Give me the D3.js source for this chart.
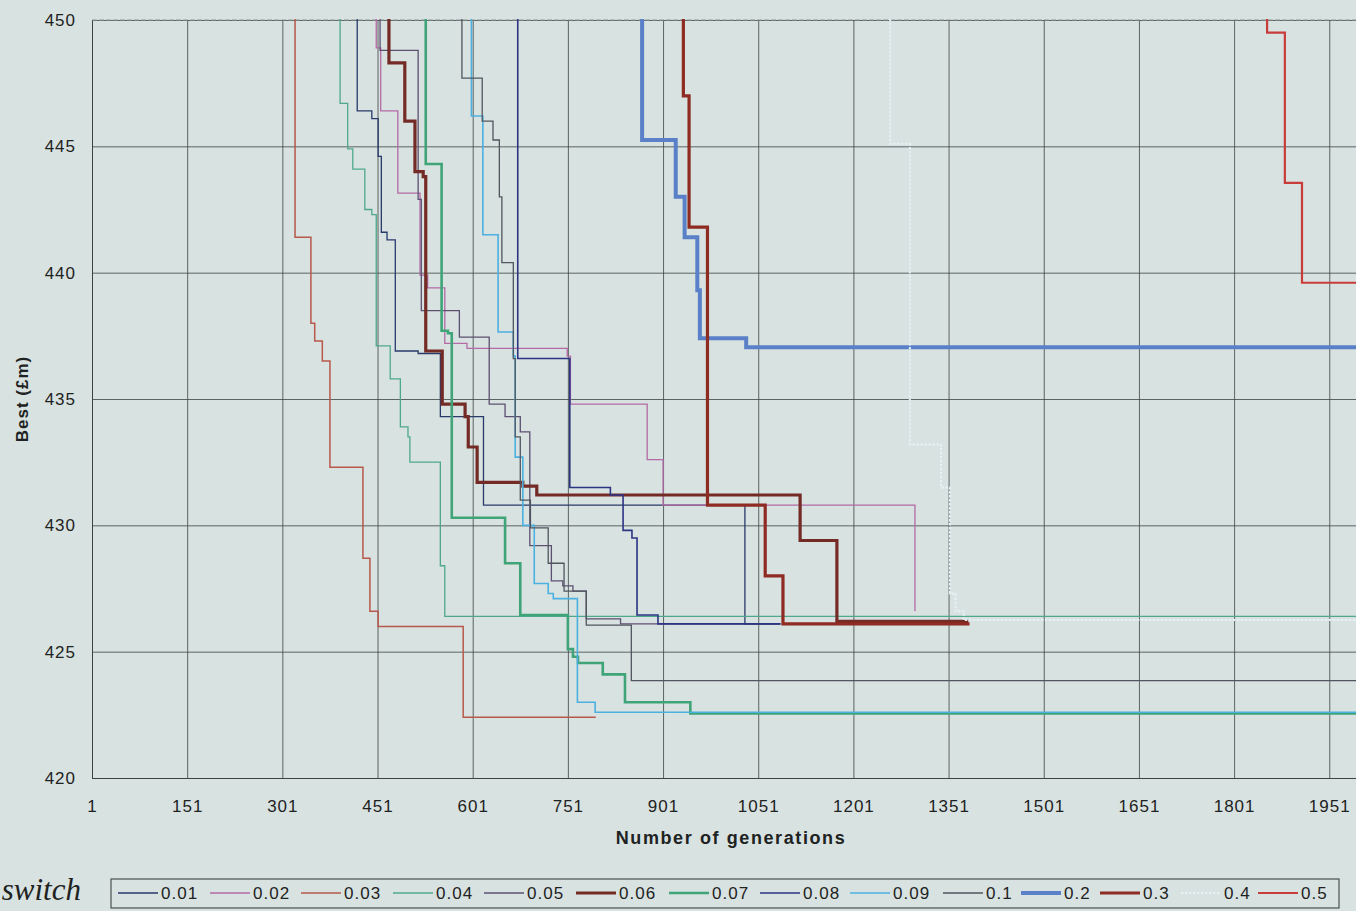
<!DOCTYPE html>
<meta charset="utf-8">
<style>
  body { margin: 0; background: #d8e2e1; }
  svg { display: block; font-family: "Liberation Sans", Arial, sans-serif; }
  .grid line { stroke: #3c4243; stroke-width: 0.8; }
  .grid path { stroke: #3c4243; stroke-width: 1; }
  .grid text { fill: #1e2222; font-size: 17px; }
  .title { font-weight: bold; fill: #1e2222; }
  .legend text { font-size: 17px; fill: #1e2222; letter-spacing: 1px; }
</style>
<body>
<script src="https://d3js.org/d3.v7.min.js"></script>
<script>
  // mutation switch rates, one step series each: [generation, best]
  var rates = ["0.01", "0.02", "0.03", "0.04", "0.05", "0.06", "0.07",
    "0.08", "0.09", "0.1", "0.2", "0.3", "0.4", "0.5"];

  var s001 = [[419, 451], [419, 446.4], [442, 446.1], [452, 444.6], [457, 441.6], [466, 441.3],
    [479, 436.9], [515, 436.8], [550, 434.3], [618, 430.8], [1030, 426.1]];
  var s002 = [[449, 451], [449, 448.9], [456, 446.4], [483, 443.15], [518, 439.9], [530, 439.4],
    [557, 437.2], [592, 437.0], [750, 436.7], [755, 434.8], [876, 432.6], [901, 430.8], [1298, 426.6]];
  var s003 = [[305, 451], [305, 450.1], [321, 441.4], [346, 438.0], [352, 437.3], [364, 436.5], [376, 432.3],
    [428, 428.7], [439, 426.6], [452, 426.0], [586, 422.4]];
  var s004 = [[392, 451], [392, 446.7], [404, 444.9], [412, 444.1], [431, 442.5], [442, 442.3],
    [449, 437.1], [471, 435.8], [487, 433.9], [499, 433.5], [502, 432.5], [550, 428.4], [557, 426.4]];
  var s005 = [[455, 451], [455, 448.8], [515, 442.9], [520, 438.5], [580, 437.45], [627, 434.8],
    [652, 434.3], [676, 433.7], [691, 429.2], [725, 427.8], [743, 427.6], [759, 427.4],
    [780, 426.3], [834, 426.1]];
  var s006 = [[469, 451], [469, 448.3], [494, 446.0], [510, 444.0], [523, 443.8], [527, 436.9],
    [553, 434.8], [589, 434.3], [594, 433.1], [608, 431.7], [680, 431.55], [702, 431.2],
    [1117, 429.4], [1175, 426.2]];
  var s007 = [[527, 451], [527, 444.3], [552, 437.7], [562, 437.6], [568, 430.3], [652, 428.5],
    [676, 426.45], [751, 425.1], [759, 424.8], [767, 424.55], [806, 424.1], [841, 423.0], [944, 422.55]];
  var s008 = [[672, 451], [672, 436.6], [754, 431.5], [818, 431.2], [838, 429.8], [852, 429.5],
    [860, 426.45], [893, 426.1]];
  var s009 = [[599, 451], [599, 446.2], [617, 441.5], [641, 437.65], [665, 436.7], [668, 432.7],
    [680, 430.0], [698, 427.7], [720, 427.3], [728, 427.1], [766, 423.0], [794, 422.6]];
  var s010 = [[584, 451], [584, 447.7], [616, 446.0], [633, 445.25], [643, 443.0], [647, 440.4],
    [665, 436.6], [668, 433.5], [676, 431.0], [692, 429.9], [720, 428.5], [745, 427.4],
    [780, 426.05], [851, 423.85]];
  var s020 = [[868, 451], [868, 445.25], [921, 443.0], [935, 441.4], [955, 439.3], [959, 437.4],
    [1032, 437.05]];
  var s030 = [[933, 451], [933, 447.0], [942, 441.8], [971, 430.8], [1062, 428.0], [1090, 426.1]];
  var s040 = [[1259, 451], [1259, 445.1], [1290, 433.2], [1339, 431.5], [1353, 427.3],
    [1362, 426.6], [1375, 426.25]];
  var s050 = [[1853, 451], [1853, 449.5], [1881, 443.55], [1908, 439.6]];

  // last generation of each run
  var runEnd = [1086, 1298, 795, 2001, 1086, 1382, 2001, 1086, 2001, 2001, 2001, 1384, 2001, 2001];

  var series = [s001, s002, s003, s004, s005, s006, s007, s008, s009, s010, s020, s030, s040, s050];

  var xTicks = d3.range(1, 2002, 150);
  var yTicks = [420, 425, 430, 435, 440, 445, 450];

  var colors = ["#283a6a", "#b46aa6", "#b8584a", "#4fa88b", "#5c5070", "#742a25", "#3fa477",
    "#2c3484", "#4cb0e0", "#50555f", "#5a80c8", "#8e2b22", "#e6f1f6", "#c83c3a"];
  var widths = [1.3, 1.3, 1.5, 1.3, 1.3, 3.2, 2.6, 1.6, 1.6, 1.3, 4, 3.2, 2, 2.2];

  var W = 1356, H = 911;
  var pLeft = 92, pTop = 20, pBottom = 778, pRight = 1361;

  var x = d3.scaleLinear().domain([1, 2001]).range([pLeft, pRight]);
  var y = d3.scaleLinear().domain([420, 450]).range([pBottom, pTop]);

  var svg = d3.select("body").append("svg")
    .attr("width", W).attr("height", H);

  svg.append("defs").append("clipPath").attr("id", "clip")
    .append("rect")
    .attr("x", pLeft).attr("y", pTop - 1)
    .attr("width", pRight - pLeft).attr("height", pBottom - pTop + 1);

  svg.append("g")
    .attr("class", "grid")
    .attr("transform", "translate(0," + pBottom + ")")
    .call(d3.axisBottom(x).tickValues(xTicks).tickFormat(d3.format("d"))
      .tickSize(-(pBottom - pTop)).tickSizeOuter(0).tickPadding(22));

  svg.append("g")
    .attr("class", "grid")
    .attr("transform", "translate(" + pLeft + ",0)")
    .call(d3.axisLeft(y).tickValues(yTicks).tickSize(-(pRight - pLeft)).tickSizeOuter(0).tickPadding(16));

  svg.selectAll(".grid text").attr("letter-spacing", "1px");

  // lighter top edge
  svg.append("line")
    .attr("x1", pLeft).attr("x2", pRight)
    .attr("y1", y(450)).attr("y2", y(450))
    .attr("stroke", "#8e9898").attr("stroke-width", 1.2)
    .attr("stroke-dasharray", "5,2");

  var line = d3.line()
    .x(function(d) { return x(d[0]); })
    .y(function(d) { return y(d[1]); })
    .curve(d3.curveStepAfter);

  var plot = svg.append("g").attr("clip-path", "url(#clip)");

  series.forEach(function(pts, i) {
    var last = pts[pts.length - 1];
    var full = pts.concat([[runEnd[i], last[1]]]);
    plot.append("path")
      .datum(full)
      .attr("fill", "none")
      .attr("stroke", colors[i])
      .attr("stroke-width", widths[i])
      .attr("stroke-dasharray", rates[i] === "0.4" ? "2.5,1.5" : null)
      .attr("d", line);
  });

  // axis titles
  svg.append("text")
    .attr("class", "title")
    .attr("transform", "translate(28,399) rotate(-90)")
    .attr("text-anchor", "middle")
    .attr("font-size", "17px")
    .attr("letter-spacing", "1px")
    .text("Best (£m)");

  svg.append("text")
    .attr("class", "title")
    .attr("x", 731).attr("y", 844)
    .attr("text-anchor", "middle")
    .attr("font-size", "18px")
    .attr("letter-spacing", "1.6px")
    .text("Number of generations");

  // caption fragment on the left
  svg.append("text")
    .attr("x", 81).attr("y", 900)
    .attr("text-anchor", "end")
    .attr("font-family", "'Liberation Serif', 'DejaVu Serif', serif")
    .attr("font-style", "italic")
    .attr("font-size", "31px")
    .attr("fill", "#1e2222")
    .text("switch");

  // legend
  var legX = [118, 210, 301, 393, 484, 576, 669, 760, 850, 943, 1021, 1100, 1181, 1258];
  var legend = svg.append("g").attr("class", "legend");

  legend.append("rect")
    .attr("x", 111).attr("y", 879)
    .attr("width", 1228).attr("height", 29)
    .attr("fill", "none").attr("stroke", "#4a5050").attr("stroke-width", 1.2);

  rates.forEach(function(r, i) {
    var g = legend.append("g").attr("transform", "translate(" + legX[i] + ",893)");
    g.append("line")
      .attr("x1", 0).attr("x2", 40)
      .attr("stroke", colors[i])
      .attr("stroke-width", Math.max(widths[i], 1.6))
      .attr("stroke-dasharray", r === "0.4" ? "2.5,1.5" : null);
    g.append("text")
      .attr("x", 43).attr("dy", "0.35em")
      .text(r);
  });
</script>
</body>
